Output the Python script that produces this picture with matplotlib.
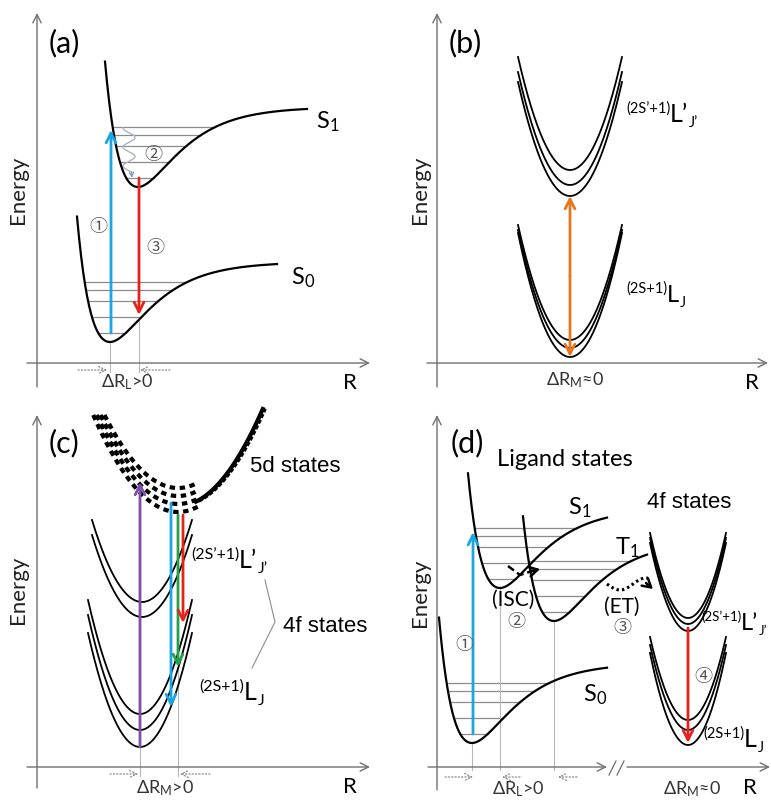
import matplotlib.pyplot as plt
import numpy as np

plt.rcParams['font.family'] = ['Lato', 'DejaVu Sans']
plt.rcParams['mathtext.fontset'] = 'custom'
plt.rcParams['mathtext.rm'] = 'Lato'
plt.rcParams['mathtext.it'] = 'Lato:italic'

# ligand (Morse-like) curves, pixel coords of the minimum and end points
lig_names = ['S$_0$', 'S$_1$', 'S$_0$', 'S$_1$', 'T$_1$']
lig_min_x = [110, 138, 472, 500, 554]
lig_min_y = [342, 187, 743, 588, 621]
lig_left = [77, 105, 439, 468, 523]
lig_right = [277, 307, 607, 607, 647]
lab_x = [291, 316, 583, 568, 615]
lab_y = [278, 122, 695, 508, 548]
vib_levels = [9, 25, 41, 52, 60]

# 4f parabolas: centre, minimum, half width, rise
f4_cx = [570] * 6 + [142] * 2 + [140] * 3 + [688] * 6
f4_min = [170, 185, 196, 340, 348, 357, 602, 617, 714, 730, 747, 618, 624, 631, 720, 730, 745]
f4_hw = [52] * 6 + [50] * 2 + [52] * 3 + [38] * 6
f4_rise = [113, 113, 114, 115, 118, 124, 82, 82, 114, 115, 114, 85, 86, 88, 83, 85, 92]

# 5d band
d5_cx = 178
d5_min = [512, 504, 496, 488]
d5_k = 0.0135

# transition arrows: x, start y, end y, colour
tr_x = [111, 139, 140, 171, 178, 183, 473, 688]
tr_y0 = [333, 178, 747, 503, 515, 515, 734, 628]
tr_y1 = [130, 315, 482, 707, 667, 623, 532, 743]
tr_col = ['#1ba5e3', '#e8221b', '#7d4fa8', '#1ba5e3', '#23a04a', '#e8221b', '#1ba5e3', '#e8221b']

D, AL, AR = 80.0, 0.0246, 0.026
AX = '#707070'

fig = plt.figure(figsize=(7.71, 8.0), dpi=100)
ax = fig.add_axes([0, 0, 1, 1])
ax.set_xlim(0, 771)
ax.set_ylim(800, 0)
ax.axis('off')


def arrow(x0, y0, x1, y1, color, lw=1.0, style='->', hl=0.6, hw=0.3, ls='-'):
    ax.annotate('', xy=(x1, y1), xytext=(x0, y0),
                arrowprops=dict(arrowstyle='%s,head_length=%s,head_width=%s' % (style, hl, hw),
                                color=color, lw=lw, ls=ls, shrinkA=0, shrinkB=0))


def morse(x, xc, ymin):
    dx = x - xc
    a = np.where(dx < 0, AL, AR)
    return ymin - D * (1 - np.exp(-a * dx)) ** 2


# axes of the four panels
for x0, yb, yt, xs, ya, xe in [(37, 387, 13, 27, 363, 370), (437, 387, 13, 427, 363, 768),
                               (37, 788, 415, 27, 767, 370), (437, 790, 415, 428, 767, 607)]:
    arrow(x0, yb, x0, yt, AX)
    arrow(xs, ya, xe, ya, AX)
arrow(627, 767, 770, 767, AX)
ax.plot([609, 616], [775, 761], color=AX, lw=0.9)
ax.plot([617, 624], [775, 761], color=AX, lw=0.9)

for t, x, y in [('(a)', 49, 43), ('(b)', 449, 43), ('(c)', 49, 443), ('(d)', 451, 443)]:
    ax.text(x, y, t, fontsize=22, va='center', ha='left')
for x, y in [(18, 190), (420, 190), (18, 590), (420, 593)]:
    ax.text(x, y, 'Energy', fontsize=16, rotation=90, ha='center', va='center', color='#222222')
for x, y in [(350, 383), (752, 383), (350, 787), (750, 788)]:
    ax.text(x, y, 'R', fontsize=16, ha='center', va='center')

# ligand curves with vibrational levels
for i in range(len(lig_names)):
    xc, ym = lig_min_x[i], lig_min_y[i]
    for h in vib_levels:
        s = np.sqrt(h / D)
        xl = xc - np.log(1 + s) / AL
        xr = xc - np.log(1 - s) / AR
        ax.plot([xl, xr], [ym - h, ym - h], color='#8c8c8c', lw=0.9, zorder=1)
    x = np.linspace(lig_left[i], lig_right[i], 300)
    ax.plot(x, morse(x, xc, ym), color='black', lw=1.6, zorder=3)
    ax.text(lab_x[i], lab_y[i], lig_names[i], fontsize=17, ha='left', va='center')

# 4f parabolas
for cx, ym, hw, rise in zip(f4_cx, f4_min, f4_hw, f4_rise):
    x = np.linspace(cx - hw, cx + hw, 200)
    ax.plot(x, ym - rise * ((x - cx) / hw) ** 2, color='black', lw=1.3, zorder=3)

# 5d band in (c)
for j, ym in enumerate(d5_min):
    dl = np.sqrt((ym - 415) / d5_k)
    x = np.linspace(d5_cx - dl, d5_cx + 20, 200)
    ax.plot(x, ym - d5_k * (x - d5_cx) ** 2, color='black', lw=3.0,
            dashes=(1.3, 1.1), dash_capstyle='butt', zorder=3)
x = np.linspace(d5_cx + 18, d5_cx + np.sqrt((d5_min[0] - 415) / d5_k), 200)
ax.plot(x, d5_min[0] - 6 - d5_k * (x - d5_cx) ** 2, color='black', lw=3.0, zorder=3)
ax.plot(x + 3, d5_min[0] - 6 - d5_k * (x - d5_cx) ** 2, color='black', lw=1.5, dashes=(2, 1), zorder=3)

# projection lines and Delta R arrows
for x, y0, y1 in [(110, 342, 372), (139, 317, 372), (140, 747, 776), (178, 667, 776),
                  (472, 743, 770), (500, 588, 770), (554, 621, 770)]:
    ax.plot([x, x], [y0, y1], color='#b8b8b8', lw=0.8, zorder=1)
for x0, x1, y in [(78, 107, 370), (170, 140, 370), (110, 138, 774), (210, 180, 774),
                  (445, 473, 777), (520, 502, 777), (577, 558, 777)]:
    arrow(x0, y, x1, y, '#8c8c8c', lw=0.9, ls=':', hl=0.5, hw=0.25)

for t, x, y in [('ΔR$_\\mathregular{L}$>0', 127, 382), ('ΔR$_\\mathregular{M}$≈0', 575, 380),
                ('ΔR$_\\mathregular{M}$>0', 165, 788), ('ΔR$_\\mathregular{L}$>0', 518, 789),
                ('ΔR$_\\mathregular{M}$≈0', 692, 789)]:
    ax.text(x, y, t, fontsize=13, ha='center', va='center', color='#333333')

# transitions
for x, y0, y1, c in zip(tr_x, tr_y0, tr_y1, tr_col):
    arrow(x, y0, x, y1, c, lw=2.0, hl=0.7, hw=0.35)
arrow(570, 276, 570, 196, '#e8761e', lw=2.0, hl=0.7, hw=0.35)
arrow(570, 276, 570, 357, '#e8761e', lw=2.0, hl=0.7, hw=0.35)

# relaxation in S1 of (a)
wy = np.linspace(128, 172, 200)
wx = 129 - 6 * np.cos(2 * np.pi * (wy - 128) / 19)
ax.plot(wx, wy, color='#a9b4c8', lw=1.0, zorder=2)
arrow(wx[-1], wy[-1], 132, 178, '#8f9bb5', lw=1.0, hl=0.3, hw=0.15)

# ISC and ET arrows in (d)
ax.plot([508, 520, 532], [566, 575, 571], color='black', lw=1.8, dashes=(3, 1.5))
arrow(532, 571, 540, 569, 'black', lw=1.8, hl=0.6, hw=0.35)
ex = np.linspace(607, 648, 100)
ey = 584 + 6 * np.sin(np.pi * (ex - 607) / 26)
ax.plot(ex, ey, color='black', lw=2.2, dashes=(0.8, 1.0))
arrow(646, 583, 653, 589, 'black', lw=1.8, hl=0.6, hw=0.35)


# term symbol labels
def term(x, yb, primed, fs=18, fss=10.5):
    p = '\u2019' if primed else ''
    ax.text(x, yb - 9, '(2S' + p + '+1)', fontsize=fss, va='baseline')
    dx = (44 if primed else 41) * fss / 10.5
    ax.text(x + dx, yb, 'L' + p, fontsize=fs, va='baseline')
    ax.text(x + dx + (19 if primed else 14) * fs / 18, yb + 5, 'J' + p, fontsize=fss, va='baseline')


term(626, 122, True)
term(626, 302, False, fs=17)
term(191, 568, True, fss=11.5)
term(199, 700, False, fss=11.5)
term(701, 630, True, fs=17, fss=9.5)
term(703, 747, False)

ax.text(250, 467, '5d states', fontsize=16, family='Liberation Sans', va='center')
ax.text(283, 627, '4f states', fontsize=16, family='Liberation Sans', va='center')
ax.text(647, 503, '4f states', fontsize=16, family='Liberation Sans', va='center')
ax.text(497, 460, 'Ligand states', fontsize=17, va='center')
ax.plot([265, 275, 252], [580, 622, 668], color='#8c8c8c', lw=0.8)

ax.text(513, 600, '(ISC)', fontsize=15, ha='center', va='center')
ax.text(622, 607, '(ET)', fontsize=15, ha='center', va='center')

cj = ['Noto Sans CJK JP', 'DejaVu Sans']
for t, x, y in [('①', 98, 227), ('②', 153, 155), ('③', 155, 248), ('①', 464, 645),
                ('②', 516, 622), ('③', 622, 628), ('④', 703, 677)]:
    ax.text(x, y, t, fontsize=13, family=cj, color='#555555', ha='center', va='center')

fig.savefig('out.png', dpi=100)
